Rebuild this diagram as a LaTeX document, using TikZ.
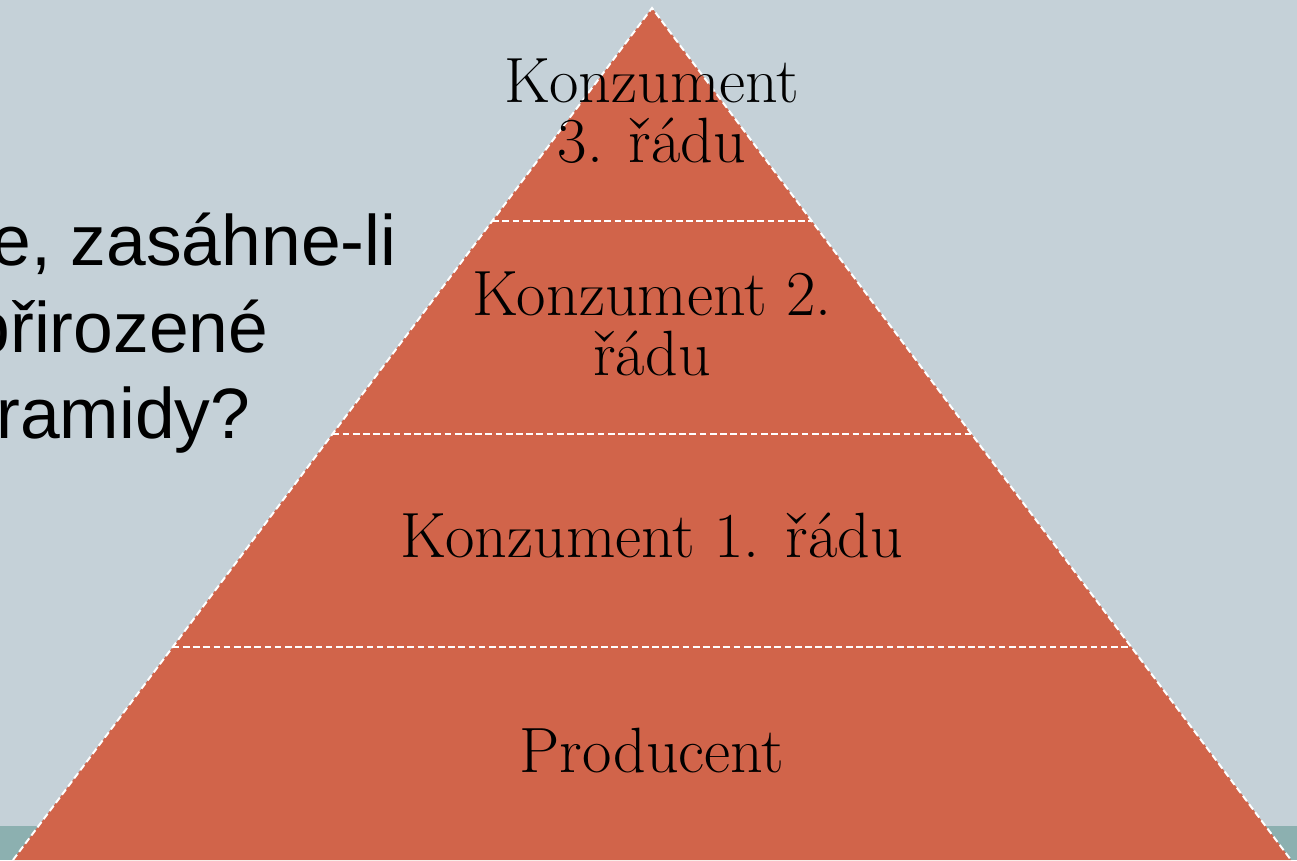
\documentclass[tikz,border=0pt]{standalone}
\usepackage{fontspec}
\newfontfamily\slidefont{Liberation Sans}
\usetikzlibrary{calc}
\usetikzlibrary{positioning}
\definecolor{slidebg}{RGB}{197,209,216}
\definecolor{slidebar}{RGB}{140,176,176}
\definecolor{layerfill}{RGB}{209,100,74}
\tikzstyle{layerline} = [draw=white, line width=0.55pt, dash pattern=on 1.9pt off 1pt]
\tikzstyle{layertext} = [align=center, inner sep=0pt, font=\fontsize{18.2}{17.1}\selectfont]
\tikzstyle{slidetext} = [anchor=base east, inner sep=0pt, font=\slidefont\fontsize{20.3}{24.7}\selectfont]

\begin{document}
\begin{tikzpicture}[x=0.01cm, y=-0.01cm]
  \useasboundingbox (0,0) rectangle (1297,860);
  \clip (0,0) rectangle (1297,860);
  \fill[slidebg] (0,0) rectangle (1297,860);
  \fill[slidebar] (0,826) rectangle (1297,860);

  % question text, cut off at the left edge
  \node[slidetext] (q1) at (397,265) {e, zasáhne-li};
  \node[slidetext] (q2) at (269,352) {přirozené};
  \node[slidetext] (q3) at (251,438) {ramidy?};

  % pyramid
  \coordinate (top) at (652,8);
  \coordinate (bl) at (13,860);
  \coordinate (br) at (1291,860);
  \fill[layerfill] (top) -- (bl) -- (br) -- cycle;
  \draw[layerline] (bl) -- (top) -- (br);
  \foreach \f in {0.25,0.5,0.75}
    \draw[layerline] ($(top)!\f!(bl)$) -- ($(top)!\f!(br)$);

  \node[layertext] (k3) at (652,111) {Konzument\\3. řádu};
  \node[layertext] (k2) at (652,324) {Konzument 2.\\řádu};
  \node[layertext, anchor=base] (k1) at (652,557) {Konzument 1. řádu};
  \node[layertext, anchor=base] (prod) at (652,772) {Producent};
\end{tikzpicture}
\end{document}
